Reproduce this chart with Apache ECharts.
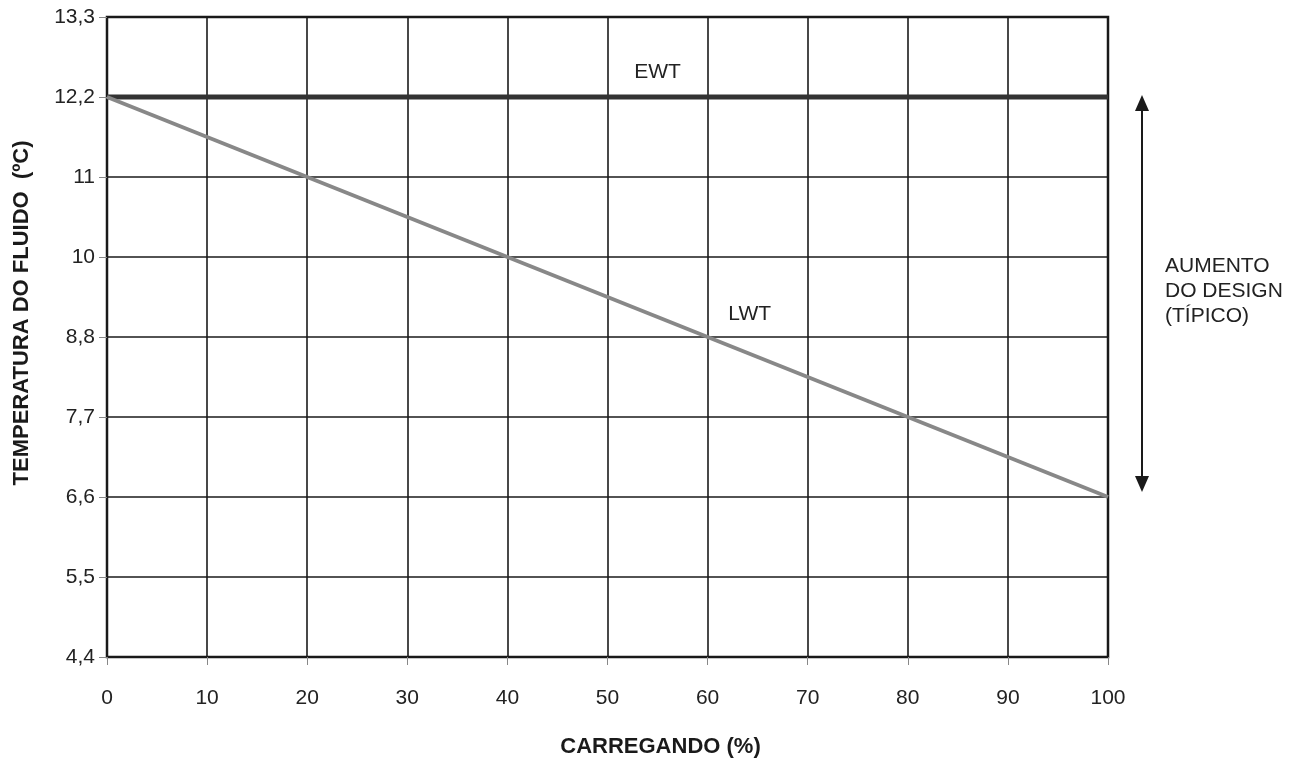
<!DOCTYPE html>
<html>
<head>
<meta charset="utf-8">
<script src="https://cdn.jsdelivr.net/npm/echarts@6/dist/echarts.min.js"></script>
<style>
  html, body { margin: 0; padding: 0; background: #fff; }
  #main { width: 1308px; height: 758px; }
</style>
</head>
<body>
<div id="main"></div>
<script>
// tick labels on the y axis (evenly spaced on the chart)
const yTicks = [4.4, 5.5, 6.6, 7.7, 8.8, 10, 11, 12.2, 13.3];
const loads = [0, 100];
const ewtTemp = [12.2, 12.2];
const lwtTemp = [12.2, 6.6];

const fmt = (v) => String(v).replace('.', ',');
const toIdx = (t) => yTicks.indexOf(t);

const chart = echarts.init(document.getElementById('main'));
const font = 'Liberation Sans, Arial, Helvetica, sans-serif';

option = {
    animation: false,
    textStyle: { fontFamily: font },
    grid: {
        left: 107, right: 200, top: 17, bottom: 101,
        containLabel: false,
        outerBoundsMode: 'none',
        show: true, borderColor: '#1a1a1a', borderWidth: 2.5
    },
    xAxis: {
        type: 'value',
        min: 0, max: 100, interval: 10,
        name: 'CARREGANDO (%)',
        nameLocation: 'middle',
        nameGap: 79,
        nameTextStyle: { fontSize: 22, fontWeight: 'bold', color: '#1a1a1a', fontFamily: font, padding: [0, 0, 0, 106] },
        axisLine: { show: false },
        axisTick: { show: true, length: 8, lineStyle: { color: '#888', width: 1 } },
        axisLabel: { margin: 31, fontSize: 21, color: '#222', fontFamily: font },
        splitLine: { show: true, lineStyle: { color: '#1a1a1a', width: 1.6 } }
    },
    yAxis: {
        type: 'value',
        min: 0, max: yTicks.length - 1, interval: 1,
        name: 'TEMPERATURA DO FLUIDO  (ºC)',
        nameLocation: 'middle',
        nameGap: 74,
        nameTextStyle: { fontSize: 22, fontWeight: 'bold', color: '#1a1a1a', fontFamily: font, padding: [0, 0, 0, 48] },
        axisLine: { show: false },
        axisTick: { show: true, length: 8, lineStyle: { color: '#888', width: 1 } },
        axisLabel: {
            margin: 12, fontSize: 21, color: '#222', fontFamily: font,
            formatter: (v) => fmt(yTicks[v])
        },
        splitLine: { show: true, lineStyle: { color: '#1a1a1a', width: 1.6 } }
    },
    series: [
        {
            name: 'EWT',
            type: 'line',
            symbol: 'none',
            data: loads.map((x, i) => [x, toIdx(ewtTemp[i])]),
            lineStyle: { color: '#333', width: 5 },
            z: 3
        },
        {
            name: 'LWT',
            type: 'line',
            symbol: 'none',
            data: loads.map((x, i) => [x, toIdx(lwtTemp[i])]),
            lineStyle: { color: '#888', width: 4 },
            z: 4
        }
    ]
};

chart.setOption(option);

// annotations placed from axis coordinates
const pEwt = chart.convertToPixel({ gridIndex: 0 }, [55, toIdx(12.2)]);
const pLwt = chart.convertToPixel({ gridIndex: 0 }, [64.2, toIdx(8.8)]);
const pTop = chart.convertToPixel({ gridIndex: 0 }, [100, toIdx(12.2)]);
const pBot = chart.convertToPixel({ gridIndex: 0 }, [100, toIdx(6.6)]);
const ax = pTop[0] + 34;
const txtStyle = { fontSize: 21, fill: '#222', fontFamily: font };

chart.setOption({
    graphic: [
        { type: 'text', x: pEwt[0], y: pEwt[1] - 25, style: Object.assign({ text: 'EWT', align: 'center', verticalAlign: 'middle' }, txtStyle) },
        { type: 'text', x: pLwt[0], y: pLwt[1] - 23, style: Object.assign({ text: 'LWT', align: 'center', verticalAlign: 'middle' }, txtStyle) },
        { type: 'line', shape: { x1: ax, y1: pTop[1] + 12, x2: ax, y2: pBot[1] - 12 }, style: { stroke: '#1a1a1a', lineWidth: 2 } },
        { type: 'polygon', shape: { points: [[ax, pTop[1] - 2], [ax - 7, pTop[1] + 14], [ax + 7, pTop[1] + 14]] }, style: { fill: '#1a1a1a' } },
        { type: 'polygon', shape: { points: [[ax, pBot[1] - 5], [ax - 7, pBot[1] - 21], [ax + 7, pBot[1] - 21]] }, style: { fill: '#1a1a1a' } },
        { type: 'text', x: ax + 23, y: (pTop[1] + pBot[1]) / 2 - 6, style: Object.assign({ text: 'AUMENTO\nDO DESIGN\n(TÍPICO)', align: 'left', verticalAlign: 'middle', lineHeight: 25 }, txtStyle) }
    ]
});
</script>
</body>
</html>
